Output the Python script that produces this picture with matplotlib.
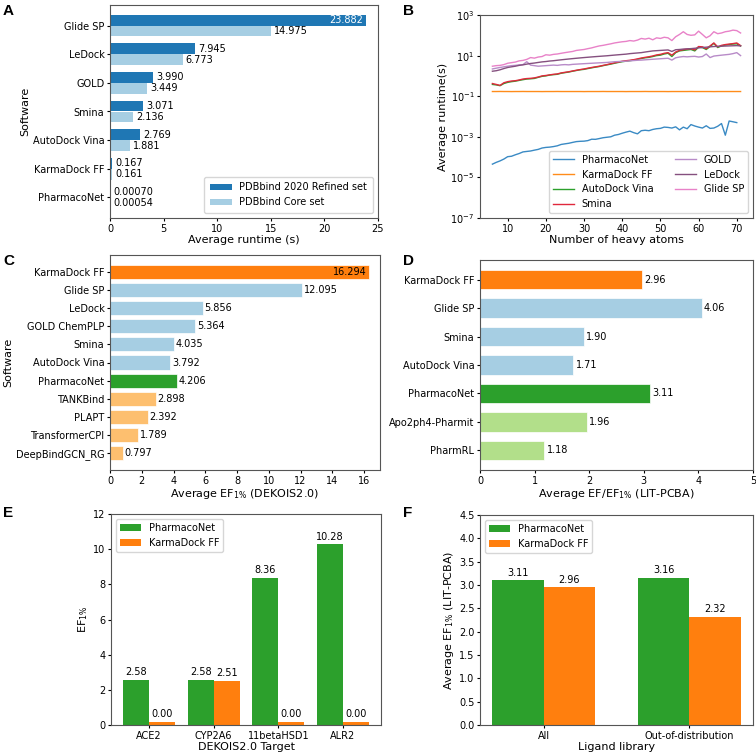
import numpy as np
import matplotlib
matplotlib.use("Agg")
import matplotlib.pyplot as plt

plt.rcParams['font.family'] = ['DejaVu Sans']
plt.rcParams['font.size'] = 7
plt.rcParams['axes.linewidth'] = 0.8
plt.rcParams['axes.edgecolor'] = '#555555'
plt.rcParams['xtick.major.size'] = 2.5
plt.rcParams['ytick.major.size'] = 2.5
plt.rcParams['xtick.major.pad'] = 1.5
plt.rcParams['ytick.major.pad'] = 1.5

# ---------------- Data ----------------
# Panel A
a_software = ["Glide SP", "LeDock", "GOLD", "Smina", "AutoDock Vina", "KarmaDock FF", "PharmacoNet"]
a_refined = [23.882, 7.945, 3.990, 3.071, 2.769, 0.167, 0.00070]
a_core = [14.975, 6.773, 3.449, 2.136, 1.881, 0.161, 0.00054]

# Panel B
b_atoms = list(range(6, 72))
b_atoms_pn = list(range(6, 71))
b_pharmaconet = [4.5e-5, 5.5e-5, 6.5e-5, 8e-5, 1.05e-4, 1.1e-4, 1.3e-4, 1.5e-4, 1.8e-4, 1.9e-4,
                 2.0e-4, 2.2e-4, 2.4e-4, 2.8e-4, 3.0e-4, 3.1e-4, 3.3e-4, 3.6e-4, 4.2e-4, 4.5e-4,
                 4.8e-4, 5.3e-4, 5.8e-4, 6.0e-4, 6.1e-4, 6.5e-4, 7.6e-4, 7.5e-4, 8.2e-4, 9.0e-4,
                 9.5e-4, 1.0e-3, 1.2e-3, 1.3e-3, 1.5e-3, 1.7e-3, 1.9e-3, 1.6e-3, 1.4e-3, 2.0e-3,
                 2.1e-3, 2.0e-3, 2.3e-3, 2.5e-3, 2.6e-3, 3.0e-3, 2.9e-3, 2.7e-3, 3.1e-3, 2.2e-3,
                 3.0e-3, 2.5e-3, 4.0e-3, 3.4e-3, 3.0e-3, 2.7e-3, 3.5e-3, 2.6e-3, 2.7e-3, 3.3e-3,
                 4.5e-3, 1.2e-3, 6.0e-3, 5.5e-3, 5.0e-3]
b_karmadock = [0.170, 0.170, 0.171, 0.170, 0.170, 0.169, 0.170, 0.170, 0.171, 0.170,
               0.170, 0.170, 0.170, 0.169, 0.170, 0.170, 0.170, 0.171, 0.170, 0.170,
               0.170, 0.170, 0.170, 0.170, 0.169, 0.170, 0.170, 0.170, 0.170, 0.171,
               0.170, 0.170, 0.170, 0.170, 0.170, 0.169, 0.170, 0.170, 0.170, 0.170,
               0.171, 0.170, 0.170, 0.170, 0.170, 0.170, 0.169, 0.170, 0.170, 0.170,
               0.170, 0.170, 0.171, 0.170, 0.170, 0.170, 0.170, 0.170, 0.169, 0.170,
               0.170, 0.170, 0.170, 0.170, 0.170, 0.170]
b_vina = [0.38, 0.36, 0.33, 0.42, 0.48, 0.52, 0.55, 0.60, 0.65, 0.70,
          0.72, 0.75, 0.85, 0.95, 1.0, 1.1, 1.15, 1.2, 1.35, 1.45,
          1.55, 1.7, 1.85, 2.0, 2.1, 2.3, 2.5, 2.7, 2.9, 3.2,
          3.5, 3.8, 4.2, 4.6, 5.0, 5.3, 5.6, 6.0, 6.5, 7.2,
          7.8, 8.2, 9.0, 10.0, 10.5, 12.0, 13.0, 9.0, 14.0, 17.0,
          18.0, 19.0, 20.0, 17.0, 26.0, 25.0, 20.0, 28.0, 40.0, 25.0,
          30.0, 33.0, 35.0, 37.0, 38.0, 30.0]
b_smina = [0.42, 0.38, 0.34, 0.46, 0.52, 0.56, 0.58, 0.63, 0.70, 0.74,
           0.76, 0.80, 0.88, 1.0, 1.05, 1.12, 1.2, 1.25, 1.4, 1.5,
           1.6, 1.75, 1.9, 2.05, 2.2, 2.4, 2.6, 2.8, 3.0, 3.3,
           3.6, 4.0, 4.4, 4.8, 5.3, 5.6, 5.9, 6.3, 6.9, 7.6,
           8.2, 8.8, 9.6, 10.8, 11.5, 13.0, 14.0, 10.5, 15.0, 18.0,
           19.5, 21.0, 22.0, 19.0, 28.0, 27.0, 22.0, 30.0, 42.0, 27.0,
           32.0, 35.0, 37.0, 39.0, 42.0, 31.0]
b_gold = [2.2, 2.4, 2.6, 2.8, 3.0, 3.2, 3.3, 3.5, 3.6, 5.0,
          3.4, 3.2, 3.0, 3.1, 3.2, 3.3, 3.4, 3.3, 3.5, 3.6,
          3.5, 3.7, 3.8, 3.9, 4.0, 4.1, 4.2, 4.3, 4.4, 4.5,
          4.6, 4.8, 5.0, 5.1, 5.2, 5.3, 5.5, 5.7, 5.9, 6.0,
          6.2, 6.4, 6.6, 6.8, 7.0, 7.2, 7.4, 6.0, 7.8, 8.5,
          9.0, 8.7, 9.0, 9.2, 8.5, 9.0, 12.0, 8.0, 9.5, 10.0,
          10.5, 11.0, 11.5, 12.5, 14.0, 10.0]
b_ledock = [1.7, 1.8, 2.0, 2.3, 2.6, 2.8, 3.0, 3.3, 3.5, 3.8,
            4.1, 4.3, 4.6, 4.9, 5.1, 5.4, 5.6, 5.9, 6.2, 6.5,
            6.8, 7.1, 7.4, 7.7, 8.0, 8.3, 8.6, 8.9, 9.2, 9.5,
            9.8, 10.2, 10.6, 11.0, 11.4, 11.8, 12.5, 13.0, 13.5, 14.0,
            15.0, 16.0, 17.0, 17.5, 18.0, 18.5, 19.0, 16.0, 19.5, 20.0,
            21.0, 21.5, 22.0, 23.0, 24.0, 25.0, 26.0, 27.0, 28.0, 28.5,
            29.0, 29.5, 30.0, 30.5, 31.0, 30.0]
b_glide = [3.0, 3.2, 3.3, 3.6, 4.2, 4.5, 4.8, 5.5, 5.8, 6.5,
           8.0, 7.5, 8.5, 9.0, 11.0, 10.5, 11.5, 12.0, 13.0, 14.0,
           15.0, 16.0, 18.0, 19.0, 20.0, 22.0, 24.0, 27.0, 30.0, 32.0,
           35.0, 38.0, 42.0, 45.0, 48.0, 50.0, 55.0, 52.0, 58.0, 70.0,
           65.0, 72.0, 60.0, 75.0, 70.0, 80.0, 75.0, 55.0, 85.0, 110.0,
           150.0, 110.0, 100.0, 105.0, 160.0, 110.0, 75.0, 95.0, 150.0, 120.0,
           130.0, 150.0, 160.0, 180.0, 170.0, 130.0]

# Panel C
c_software = ["KarmaDock FF", "Glide SP", "LeDock", "GOLD ChemPLP", "Smina", "AutoDock Vina",
              "PharmacoNet", "TANKBind", "PLAPT", "TransformerCPI", "DeepBindGCN_RG"]
c_ef = [16.294, 12.095, 5.856, 5.364, 4.035, 3.792, 4.206, 2.898, 2.392, 1.789, 0.797]
c_group = ["karma", "dock", "dock", "dock", "dock", "dock", "pn", "dl", "dl", "dl", "dl"]

# Panel D
d_software = ["KarmaDock FF", "Glide SP", "Smina", "AutoDock Vina", "PharmacoNet", "Apo2ph4-Pharmit", "PharmRL"]
d_ef = [2.96, 4.06, 1.90, 1.71, 3.11, 1.96, 1.18]
d_group = ["karma", "dock", "dock", "dock", "pn", "ph4", "ph4"]

# Panel E
e_targets = ["ACE2", "CYP2A6", "11betaHSD1", "ALR2"]
e_pharmaconet = [2.58, 2.58, 8.36, 10.28]
e_karmadock = [0.00, 2.51, 0.00, 0.00]

# Panel F
f_library = ["All", "Out-of-distribution"]
f_pharmaconet = [3.11, 3.16]
f_karmadock = [2.96, 2.32]

# ---------------- Style ----------------
COL_REF = '#1f77b4'
COL_CORE = '#a6cee3'
COL_ORANGE = '#ff7f0e'
COL_GREEN = '#2ca02c'
group_colors = {"karma": '#ff7f0e', "dock": '#a6cee3', "pn": '#2ca02c', "dl": '#fdbf6f', "ph4": '#b2df8a'}
TICK = 7
LAB = 8

W, H = 756, 755
fig = plt.figure(figsize=(W / 100, H / 100), dpi=100)


def add_ax(x0, y0, x1, y1):
    return fig.add_axes([x0 / W, 1 - y1 / H, (x1 - x0) / W, (y1 - y0) / H])


def panel_label(ch, x, y):
    fig.text(x / W, 1 - y / H, ch, fontsize=11, fontweight='bold', family='Liberation Sans',
             va='top', ha='left')


# ---- Panel A ----
axA = add_ax(110, 5, 378, 218)
ya = np.arange(len(a_software))
h = 0.38
axA.barh(ya - h / 2, a_refined, height=h, color=COL_REF, label='PDBbind 2020 Refined set')
axA.barh(ya + h / 2, a_core, height=h, color=COL_CORE, label='PDBbind Core set')
for i, (r, c) in enumerate(zip(a_refined, a_core)):
    fmt = '{:.5f}' if r < 0.01 else '{:.3f}'
    if r > 20:
        axA.text(r - 0.3, ya[i] - h / 2, fmt.format(r), color='white', va='center', ha='right', fontsize=TICK)
    else:
        axA.text(r + 0.3, ya[i] - h / 2, fmt.format(r), va='center', ha='left', fontsize=TICK)
    axA.text(c + 0.3, ya[i] + h / 2, fmt.format(c), va='center', ha='left', fontsize=TICK)
axA.set_yticks(ya)
axA.set_yticklabels(a_software, fontsize=TICK)
axA.invert_yaxis()
axA.set_xlim(0, 25)
axA.tick_params(labelsize=TICK)
axA.set_xlabel('Average runtime (s)', fontsize=LAB, labelpad=1)
axA.set_ylabel('Software', fontsize=LAB, labelpad=2)
axA.legend(loc='lower right', fontsize=TICK, handlelength=2.2, borderpad=0.6)
panel_label('A', 3, 4)

# ---- Panel B ----
axB = add_ax(480, 15, 753, 218)
axB.plot(b_atoms_pn, b_pharmaconet, color='#3a8ac4', lw=1.0, label='PharmacoNet')
axB.plot(b_atoms, b_karmadock, color='#ff8c1a', lw=1.0, label='KarmaDock FF')
axB.plot(b_atoms, b_vina, color='#2ca02c', lw=1.0, label='AutoDock Vina')
axB.plot(b_atoms, b_smina, color='#e0283c', lw=1.0, label='Smina')
axB.plot(b_atoms, b_gold, color='#b88bc8', lw=1.0, label='GOLD')
axB.plot(b_atoms, b_ledock, color='#85507f', lw=1.0, label='LeDock')
axB.plot(b_atoms, b_glide, color='#e882c8', lw=1.0, label='Glide SP')
axB.set_yscale('log')
axB.set_ylim(1e-7, 1e3)
axB.set_yticks([1e-7, 1e-5, 1e-3, 1e-1, 1e1, 1e3])
axB.minorticks_off()
axB.tick_params(labelsize=TICK)
axB.set_xlabel('Number of heavy atoms', fontsize=LAB, labelpad=1)
axB.set_ylabel('Average runtime(s)', fontsize=LAB, labelpad=2)
axB.legend(loc='lower right', ncol=2, fontsize=TICK, handlelength=2.2, columnspacing=2.2)
panel_label('B', 403, 4)

# ---- Panel C ----
axC = add_ax(110, 255, 380, 470)
yc = np.arange(len(c_software))
axC.barh(yc, c_ef, height=0.78, color=[group_colors[g] for g in c_group], edgecolor='white', linewidth=0.5)
for i, v in enumerate(c_ef):
    if v > 15:
        axC.text(v - 0.1, yc[i], '{:.3f}'.format(v), va='center', ha='right', fontsize=TICK)
    else:
        axC.text(v + 0.1, yc[i], '{:.3f}'.format(v), va='center', ha='left', fontsize=TICK)
axC.set_yticks(yc)
axC.set_yticklabels(c_software, fontsize=TICK)
axC.invert_yaxis()
axC.set_xlim(0, 17)
axC.set_xticks(np.arange(0, 17, 2))
axC.tick_params(labelsize=TICK)
axC.set_xlabel('Average EF$_{1\\%}$ (DEKOIS2.0)', fontsize=LAB, labelpad=1)
axC.set_ylabel('Software', fontsize=LAB, labelpad=2)
panel_label('C', 3, 254)

# ---- Panel D ----
axD = add_ax(480, 260, 753, 470)
yd = np.arange(len(d_software))
axD.barh(yd, d_ef, height=0.7, color=[group_colors[g] for g in d_group], edgecolor='white', linewidth=0.5)
for i, v in enumerate(d_ef):
    axD.text(v + 0.04, yd[i], '{:.2f}'.format(v), va='center', ha='left', fontsize=TICK)
axD.set_yticks(yd)
axD.set_yticklabels(d_software, fontsize=TICK)
axD.invert_yaxis()
axD.set_xlim(0, 5)
axD.tick_params(labelsize=TICK)
axD.set_xlabel('Average EF/EF$_{1\\%}$ (LIT-PCBA)', fontsize=LAB, labelpad=1)
panel_label('D', 403, 254)

# ---- Panel E ----
axE = add_ax(111, 514, 381, 725)
xe = np.arange(len(e_targets))
we = 0.4
axE.bar(xe - we / 2, e_pharmaconet, width=we, color=COL_GREEN, label='PharmacoNet')
axE.bar(xe + we / 2, np.maximum(e_karmadock, 0.18), width=we, color=COL_ORANGE, label='KarmaDock FF')
for i in range(len(e_targets)):
    axE.text(xe[i] - we / 2, e_pharmaconet[i] + 0.15, '{:.2f}'.format(e_pharmaconet[i]), ha='center', va='bottom', fontsize=TICK)
    axE.text(xe[i] + we / 2, max(e_karmadock[i], 0.18) + 0.15, '{:.2f}'.format(e_karmadock[i]), ha='center', va='bottom', fontsize=TICK)
axE.set_xticks(xe)
axE.set_xticklabels(e_targets, fontsize=TICK)
axE.set_ylim(0, 12)
axE.tick_params(labelsize=TICK)
axE.set_xlabel('DEKOIS2.0 Target', fontsize=LAB, labelpad=1)
axE.set_ylabel('EF$_{1\\%}$', fontsize=LAB, labelpad=2)
axE.legend(loc='upper left', fontsize=TICK, handlelength=2.2)
panel_label('E', 3, 506)

# ---- Panel F ----
axF = add_ax(480, 515, 753, 725)
xf = np.arange(len(f_library))
wf = 0.35
axF.bar(xf - wf / 2, f_pharmaconet, width=wf, color=COL_GREEN, label='PharmacoNet')
axF.bar(xf + wf / 2, f_karmadock, width=wf, color=COL_ORANGE, label='KarmaDock FF')
for i in range(len(f_library)):
    axF.text(xf[i] - wf / 2, f_pharmaconet[i] + 0.05, '{:.2f}'.format(f_pharmaconet[i]), ha='center', va='bottom', fontsize=TICK)
    axF.text(xf[i] + wf / 2, f_karmadock[i] + 0.05, '{:.2f}'.format(f_karmadock[i]), ha='center', va='bottom', fontsize=TICK)
axF.set_xticks(xf)
axF.set_xticklabels(f_library, fontsize=TICK)
axF.set_ylim(0, 4.5)
axF.set_yticks(np.arange(0, 4.51, 0.5))
axF.tick_params(labelsize=TICK)
axF.set_xlabel('Ligand library', fontsize=LAB, labelpad=1)
axF.set_ylabel('Average EF$_{1\\%}$ (LIT-PCBA)', fontsize=LAB, labelpad=2)
axF.legend(loc='upper left', fontsize=TICK, handlelength=2.2)
panel_label('F', 403, 506)

fig.savefig('out.png', dpi=100)
